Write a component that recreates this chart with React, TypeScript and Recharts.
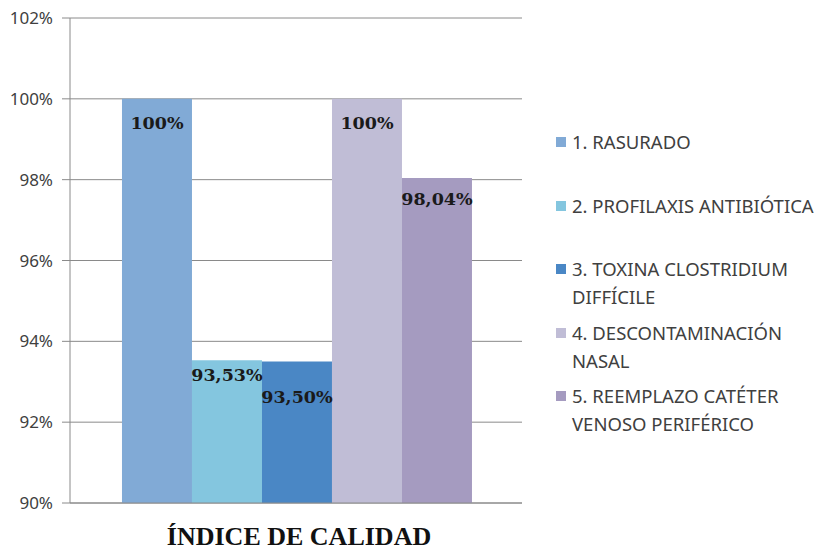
import React from "react";
import { BarChart, Bar, XAxis, YAxis, CartesianGrid, Legend, LabelList } from "recharts";

const categories = ["ÍNDICE DE CALIDAD"];
const seriesNames = [
  "1. RASURADO",
  "2. PROFILAXIS ANTIBIÓTICA",
  "3. TOXINA CLOSTRIDIUM\nDIFFÍCILE",
  "4. DESCONTAMINACIÓN\nNASAL",
  "5. REEMPLAZO CATÉTER\nVENOSO PERIFÉRICO",
];
const seriesValues = [100, 93.53, 93.5, 100, 98.04];
const seriesColors = ["#81AAD6", "#84C6DF", "#4A87C5", "#C0BDD6", "#A59BC0"];
const labelOffsets = [24, 15, 35, 24, 21];
const yTicks = [90, 92, 94, 96, 98, 100, 102];

const data = categories.map((c) => {
  const row: Record<string, any> = { name: c };
  seriesValues.forEach((v, i) => (row["s" + i] = v));
  return row;
});

const fmt = (v: number) =>
  Number.isInteger(v) ? `${v}%` : v.toFixed(2).replace(".", ",") + "%";

const makeLabel = (dy: number) => (props: any) => {
  const { x, y, width, value } = props;
  return (
    <text
      x={x + width / 2}
      y={y + dy}
      textAnchor="middle"
      dominantBaseline="central"
      fontFamily="'DejaVu Serif', serif"
      fontWeight="bold"
      fontSize={17.5}
      fill="#1a1a1a"
    >
      {fmt(value)}
    </text>
  );
};

const LegendContent = () => (
  <div style={{ fontFamily: "'Noto Sans', sans-serif", fontSize: 18.5, color: "#404040" }}>
    {seriesNames.map((n, i) => (
      <div key={i} style={{ position: "relative", height: 63.6, paddingLeft: 16 }}>
        <div
          style={{
            position: "absolute",
            left: 0,
            top: 9,
            width: 10,
            height: 10,
            background: seriesColors[i],
          }}
        />
        <div style={{ whiteSpace: "pre-line", lineHeight: "28px", marginTop: 0 }}>{n}</div>
      </div>
    ))}
  </div>
);

const AxisTitle = (props: any) => {
  const { viewBox } = props;
  return (
    <text
      x={viewBox.x + viewBox.width / 2 + 3}
      y={545}
      textAnchor="middle"
      fontFamily="'Liberation Serif', serif"
      fontWeight="bold"
      fontSize={26}
      fill="#111"
    >
      {categories[0]}
    </text>
  );
};

export default function App() {
  return (
    <div style={{ position: "absolute", left: 0, top: 0, background: "#fff" }}>
      <BarChart
        width={820}
        height={550}
        data={data}
        margin={{ top: 18, right: 35, bottom: 0, left: 0 }}
        barCategoryGap="11.5%"
        barGap={0}
      >
        <CartesianGrid vertical={false} stroke="#8a8a8a" strokeWidth={1} />
        <XAxis
          dataKey="name"
          tick={false}
          tickLine={false}
          axisLine={{ stroke: "#8a8a8a" }}
          height={47}
          label={<AxisTitle />}
        />
        <YAxis
          width={70}
          domain={[90, 102]}
          ticks={yTicks}
          interval={0}
          tickFormatter={(v: number) => `${v}%`}
          tickSize={8}
          tickMargin={9}
          tickLine={{ stroke: "#8a8a8a" }}
          axisLine={{ stroke: "#8a8a8a" }}
          tick={{ fontFamily: "'Noto Sans', sans-serif", fontSize: 17, fill: "#404040" }}
          allowDataOverflow
        />
        <Legend
          layout="vertical"
          align="right"
          verticalAlign="top"
          content={<LegendContent />}
          wrapperStyle={{ left: 556, top: 128, width: 263 }}
        />
        {seriesValues.map((_, i) => (
          <Bar key={i} dataKey={"s" + i} name={seriesNames[i]} fill={seriesColors[i]} isAnimationActive={false}>
            <LabelList dataKey={"s" + i} content={makeLabel(labelOffsets[i])} />
          </Bar>
        ))}
      </BarChart>
    </div>
  );
}
